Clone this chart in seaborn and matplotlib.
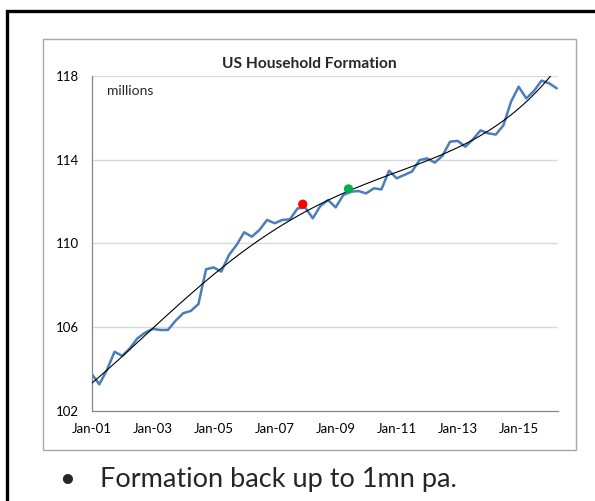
import numpy as np
import matplotlib
matplotlib.use("Agg")
import matplotlib.pyplot as plt
from matplotlib.patches import Rectangle
import seaborn as sns

# quarterly household count, millions, starting Jan-01
household = [103.76, 103.26, 103.95, 104.82, 104.62, 104.98, 105.46, 105.73,
             105.91, 105.86, 105.86, 106.30, 106.66, 106.77, 107.10, 108.76,
             108.85, 108.65, 109.44, 109.92, 110.53, 110.32, 110.64, 111.12,
             110.96, 111.12, 111.15, 111.67, 111.71, 111.20, 111.79, 112.07,
             111.72, 112.31, 112.47, 112.50, 112.39, 112.63, 112.58, 113.47,
             113.11, 113.27, 113.43, 113.98, 114.06, 113.86, 114.18, 114.86,
             114.90, 114.62, 114.97, 115.40, 115.26, 115.20, 115.64, 116.77,
             117.49, 116.93, 117.28, 117.78, 117.65, 117.41]
first_year = 2001

# highlighted points (recession start / end)
mark_dates = [2007.92, 2009.42]
mark_values = [111.87, 112.60]
mark_colors = ["#FF0000", "#00B050"]

tick_years = [2001, 2003, 2005, 2007, 2009, 2011, 2013, 2015]
tick_labels = ["Jan-01", "Jan-03", "Jan-05", "Jan-07", "Jan-09", "Jan-11", "Jan-13", "Jan-15"]
y_ticks = [102, 106, 110, 114, 118]

sns.set_theme(style="white")
plt.rcParams["font.family"] = ["Lato", "DejaVu Sans"]

t = first_year + np.arange(len(household)) / 4.0

fig = plt.figure(figsize=(5.95, 5.01), dpi=100)
ax = fig.add_axes([0.1541, 0.1802, 0.7832, 0.6681])

# grid lines first so the data sits on top
for yv in y_ticks[1:]:
    ax.axhline(yv, color="#D9D9D9", lw=1, zorder=0)

sns.lineplot(x=t, y=household, ax=ax, color="#4A7EBB", lw=1.8, zorder=2)
# Excel style polynomial trend line
sns.regplot(x=t, y=np.array(household), ax=ax, order=4, ci=None, scatter=False,
            truncate=True, line_kws={"color": "black", "lw": 0.8, "zorder": 3})
ax.scatter(mark_dates, mark_values, c=mark_colors, s=45, zorder=4, edgecolors="none")

ax.set_xlim(2001, 2016.28)
ax.set_ylim(102, 118)
ax.set_xticks(tick_years)
ax.set_xticklabels(tick_labels)
ax.set_yticks(y_ticks)
ax.set_xlabel("")
ax.set_ylabel("")
ax.tick_params(axis="both", labelsize=9.5, colors="#868686", labelcolor="black",
               direction="out", width=0.8)
ax.tick_params(axis="y", length=4, pad=5)
ax.tick_params(axis="x", length=3, pad=6)
for s in ["top", "right"]:
    ax.spines[s].set_visible(False)
for s in ["left", "bottom"]:
    ax.spines[s].set_color("#868686")
    ax.spines[s].set_linewidth(0.9)

ax.text(0.033, 0.955, "millions", transform=ax.transAxes, fontsize=10, va="center")
fig.text(0.52, 0.872, "US Household Formation", fontsize=11.2, fontweight="bold",
         ha="center", va="center")

# chart frame and slide frame
fig.patches.append(Rectangle((0.0723, 0.1018), 0.8957, 0.8202, transform=fig.transFigure,
                             fill=False, edgecolor="#A6A6A6", lw=1))
fig.patches.append(Rectangle((0.0126, -0.1), 1.1, 1.0787, transform=fig.transFigure,
                             fill=False, edgecolor="black", lw=2.4))

fig.text(0.113, 0.042, "\u2022", fontsize=19.5, ha="center", va="center")
fig.text(0.168, 0.042, "Formation back up to 1mn pa.", fontsize=19.5, va="center")

fig.savefig("out.png", dpi=100)
